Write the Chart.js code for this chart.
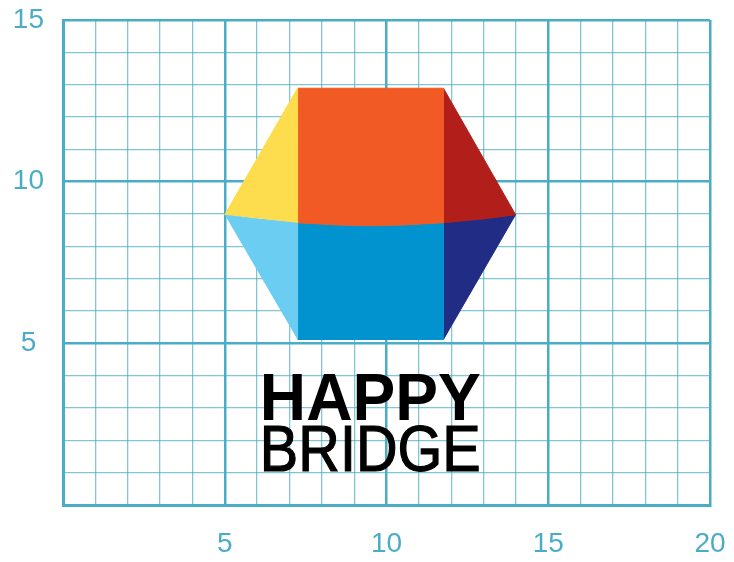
<!DOCTYPE html>
<html>
<head>
<meta charset="utf-8">
<script src="https://cdn.jsdelivr.net/npm/chart.js@4/dist/chart.umd.min.js"></script>
<style>
  html, body { margin: 0; padding: 0; background: #ffffff; }
  #wrap { width: 734px; height: 562px; }
</style>
</head>
<body>
<div id="wrap"><canvas id="c" width="734" height="562"></canvas></div>
<script>
// ---- data (axis units) ----
const xRange = [0, 20];
const yRange = [0, 15];
const xTickLabels = [5, 10, 15, 20];
const yTickLabels = [5, 10, 15];

// faces of the hexagon (the seam between upper and lower halves is a slight arc)
const yellowFaceX = [5, 7.25, 7.25];
const yellowFaceY = [8.98, 12.89, 8.73];
const orangeFaceX = [7.25, 11.76, 11.76, 10.5, 9.5, 8.5, 7.25];
const orangeFaceY = [12.89, 12.89, 8.73, 8.66, 8.64, 8.66, 8.73];
const redFaceX = [11.76, 13.99, 13, 11.76];
const redFaceY = [12.89, 8.98, 8.85, 8.73];
const lightBlueFaceX = [5, 6, 7.25, 7.25];
const lightBlueFaceY = [8.98, 8.85, 8.73, 5.12];
const blueFaceX = [7.25, 8.5, 9.5, 10.5, 11.76, 11.76, 7.25];
const blueFaceY = [8.73, 8.66, 8.64, 8.66, 8.73, 5.12, 5.12];
const navyFaceX = [11.76, 13, 13.99, 11.76];
const navyFaceY = [8.73, 8.85, 8.98, 5.12];

const logoWords = ['HAPPY', 'BRIDGE'];
const logoCenterX = 9.5;
const logoWidth = 6.83;
const logoBaselines = [2.63, 1.05];

function pts(xs, ys) { return xs.map((x, i) => ({ x: x, y: ys[i] })); }
function face(xs, ys, color) {
  return {
    data: pts(xs, ys),
    showLine: true,
    fill: 'shape',
    backgroundColor: color,
    borderColor: color,
    borderWidth: 1,
    pointRadius: 0,
    pointHoverRadius: 0,
    tension: 0
  };
}

const MAJOR = '#4bacc6';
const MINOR = 'rgba(75,172,198,0.7)';
const FONT = { family: 'Liberation Sans, Arial, sans-serif', size: 28 };

const logoPlugin = {
  id: 'logo',
  afterDatasetsDraw(chart) {
    const ctx = chart.ctx;
    const xs = chart.scales.x, ys = chart.scales.y;
    const cx = xs.getPixelForValue(logoCenterX);
    const w = xs.getPixelForValue(logoCenterX + logoWidth / 2) - xs.getPixelForValue(logoCenterX - logoWidth / 2);
    const fonts = ['bold 66px "Liberation Sans", Arial, sans-serif', '64px "Liberation Sans", Arial, sans-serif'];
    ctx.save();
    ctx.fillStyle = '#000000';
    ctx.textAlign = 'center';
    ctx.textBaseline = 'alphabetic';
    logoWords.forEach((word, i) => {
      ctx.font = fonts[i];
      const m = ctx.measureText(word).width;
      const sx = w / m;
      const by = ys.getPixelForValue(logoBaselines[i]);
      ctx.save();
      ctx.translate(cx, by);
      ctx.scale(sx, 1);
      ctx.fillText(word, 0, 0);
      if (i === 1) {
        ctx.lineWidth = 1.2;
        ctx.strokeStyle = '#000000';
        ctx.strokeText(word, 0, 0);
      }
      ctx.restore();
    });
    ctx.restore();
  }
};

function gridWidth(ctx) {
  const v = ctx.tick ? ctx.tick.value : 0;
  return v % 5 === 0 ? 2.5 : 1.3;
}
function gridColor(ctx) {
  const v = ctx.tick ? ctx.tick.value : 0;
  return v % 5 === 0 ? MAJOR : MINOR;
}

new Chart(document.getElementById('c'), {
  type: 'scatter',
  data: {
    datasets: [
      face(yellowFaceX, yellowFaceY, '#fddd4d'),
      face(orangeFaceX, orangeFaceY, '#f15a24'),
      face(redFaceX, redFaceY, '#b21e19'),
      face(lightBlueFaceX, lightBlueFaceY, '#6ccdf3'),
      face(blueFaceX, blueFaceY, '#0093d0'),
      face(navyFaceX, navyFaceY, '#212d85')
    ]
  },
  options: {
    responsive: false,
    animation: false,
    events: [],
    layout: { padding: { top: 20, right: 24, left: 0, bottom: 0 } },
    plugins: { legend: { display: false }, tooltip: { enabled: false } },
    scales: {
      x: {
        type: 'linear',
        min: xRange[0], max: xRange[1],
        z: 1,
        afterFit(s) { s.height = 57; s.paddingLeft = 0; s.paddingRight = 0; },
        border: { display: true, color: MAJOR, width: 3 },
        grid: { drawTicks: false, color: gridColor, lineWidth: gridWidth },
        ticks: {
          stepSize: 1, autoSkip: false, maxRotation: 0,
          padding: 22, color: MAJOR, font: FONT,
          callback: (v) => xTickLabels.includes(v) ? String(v) : ''
        }
      },
      y: {
        type: 'linear',
        min: yRange[0], max: yRange[1],
        z: 1,
        afterFit(s) { s.width = 63; s.paddingTop = 0; s.paddingBottom = 0; },
        border: { display: true, color: MAJOR, width: 3 },
        grid: { drawTicks: false, color: gridColor, lineWidth: gridWidth },
        ticks: {
          stepSize: 1, autoSkip: false,
          padding: 19, crossAlign: 'center', color: MAJOR, font: FONT,
          callback: (v) => yTickLabels.includes(v) ? String(v) : ''
        }
      }
    }
  },
  plugins: [logoPlugin]
});
</script>
</body>
</html>
